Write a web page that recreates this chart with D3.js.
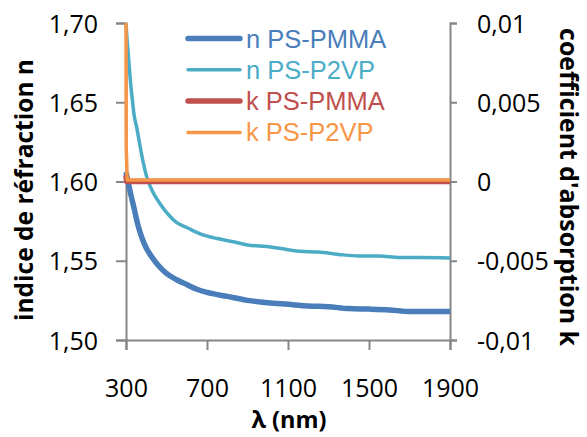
<!DOCTYPE html>
<html><head><meta charset="utf-8">
<script src="https://cdn.jsdelivr.net/npm/d3@7"></script>
<style>
html,body{margin:0;padding:0;background:#fff;}
svg{display:block;font-family:"Open Sans",sans-serif;}
</style></head>
<body>
<svg id="chart" width="587" height="437"></svg>
<script>
// ---- data ----
const lambdaTicks = [300, 700, 1100, 1500, 1900];
const nTicks = [1.50, 1.55, 1.60, 1.65, 1.70];
const nTickLabels = ["1,50", "1,55", "1,60", "1,65", "1,70"];
const kTicks = [-0.01, -0.005, 0, 0.005, 0.01];
const kTickLabels = ["-0,01", "-0,005", "0", "0,005", "0,01"];

const nPMMA_lambda = [300,310,320,340,360,380,400,430,460,500,550,600,650,700,800,900,1000,1100,1200,1300,1400,1500,1600,1700,1800,1900];
const nPMMA_value  = [1.606,1.600,1.594,1.583,1.572,1.564,1.558,1.552,1.547,1.542,1.538,1.535,1.532,1.530,1.5275,1.525,1.5235,1.5225,1.5215,1.521,1.5198,1.5195,1.519,1.518,1.518,1.518];

const nP2VP_lambda = [300,305,311,320,330,340,353,370,385,402,430,468,510,551,600,666,750,830,900,995,1100,1159,1250,1350,1450,1550,1650,1750,1900];
const nP2VP_value  = [1.700,1.690,1.681,1.666,1.653,1.642,1.634,1.622,1.612,1.603,1.594,1.586,1.579,1.574,1.571,1.567,1.564,1.562,1.560,1.559,1.557,1.556,1.5555,1.554,1.553,1.553,1.552,1.552,1.5517];

const kPMMA_lambda = [300,303,500,900,1300,1900];
const kPMMA_value  = [0.0004,0,0,0,0,0];

const kP2VP_lambda = [300,301,306,500,900,1300,1900];
const kP2VP_value  = [0.0100,0.0022,0.0001,0.0001,0.0001,0.0001,0.0001];

const seriesNames = ["n PS-PMMA", "n PS-P2VP", "k PS-PMMA", "k PS-P2VP"];
const seriesColors = ["#4a7ebb", "#4bacc6", "#c0504d", "#f79646"];
const seriesWidths = [5.5, 3.5, 5.5, 3.5];

// ---- layout ----
const svg = d3.select("#chart");
const mLeft = 126, mRight = 450, mTop = 23, mBottom = 340;
const x = d3.scaleLinear().domain([300, 1900]).range([mLeft, mRight]);
const yN = d3.scaleLinear().domain([1.5, 1.7]).range([mBottom, mTop]);
const yK = d3.scaleLinear().domain([-0.01, 0.01]).range([mBottom, mTop]);
const axisColor = "#868686";

svg.append("defs").append("clipPath").attr("id", "clip")
  .append("rect").attr("x", mLeft - 3).attr("y", mTop - 3).attr("width", mRight - mLeft + 6).attr("height", mBottom - mTop + 6);

function styleAxis(g) {
  g.select(".domain").attr("stroke", axisColor).attr("stroke-width", 2);
  g.selectAll(".tick line").attr("stroke", axisColor).attr("stroke-width", 2);
  g.selectAll(".tick text").attr("fill", "#000").style("font-size", "25px").style("font-family", "'Open Sans', sans-serif");
}

const gx = svg.append("g").attr("transform", `translate(0,${mBottom})`)
  .call(d3.axisBottom(x).tickValues(lambdaTicks).tickSizeOuter(0).tickSize(10).tickPadding(29).tickFormat(d => String(d)));
styleAxis(gx);

const gyL = svg.append("g").attr("transform", `translate(${mLeft},0)`)
  .call(d3.axisLeft(yN).tickValues(nTicks).tickSizeOuter(0).tickSize(10).tickPadding(18).tickFormat((d, i) => nTickLabels[i]));
styleAxis(gyL);
gyL.selectAll(".tick text").attr("dy", "0.36em");

const gyR = svg.append("g").attr("transform", `translate(${mRight},0)`)
  .call(d3.axisRight(yK).tickValues(kTicks).tickSizeOuter(0).tickSize(7).tickPadding(20).tickFormat((d, i) => kTickLabels[i]));
styleAxis(gyR);
gyR.selectAll(".tick text").attr("dy", "0.36em");

// ---- series ----
const zip = (a, b) => a.map((v, i) => [v, b[i]]);
const series = [
  {pts: zip(nPMMA_lambda, nPMMA_value), y: yN, curve: d3.curveMonotoneX},
  {pts: zip(nP2VP_lambda, nP2VP_value), y: yN, curve: d3.curveMonotoneX},
  {pts: zip(kPMMA_lambda, kPMMA_value), y: yK, curve: d3.curveLinear},
  {pts: zip(kP2VP_lambda, kP2VP_value), y: yK, curve: d3.curveLinear}
];
const plot = svg.append("g").attr("clip-path", "url(#clip)");
series.forEach((s, i) => {
  const line = d3.line().x(d => x(d[0])).y(d => s.y(d[1])).curve(s.curve);
  plot.append("path").datum(s.pts)
    .attr("fill", "none").attr("stroke", seriesColors[i]).attr("stroke-width", seriesWidths[i])
    .attr("stroke-linejoin", "round").attr("d", line);
});

// ---- legend ----
const legend = svg.append("g");
seriesNames.forEach((name, i) => {
  const yy = 38.5 + i * 31.3;
  legend.append("line").attr("x1", 188).attr("x2", 240).attr("y1", yy).attr("y2", yy)
    .attr("stroke", seriesColors[i]).attr("stroke-width", seriesWidths[i]).attr("stroke-linecap", "round");
  legend.append("text").attr("x", 246).attr("y", yy + 9).attr("fill", seriesColors[i])
    .style("font-family", "'Liberation Sans', Arial, sans-serif")
    .style("font-size", "25.5px").text(name);
});

// ---- axis titles (font size fitted to the measured length) ----
function fitText(sel, target) {
  const len = sel.node().getComputedTextLength();
  if (len > 0) sel.style("font-size", (25 * target / len).toFixed(2) + "px");
}
const tL = svg.append("text").attr("transform", "translate(33,190) rotate(-90)")
  .attr("text-anchor", "middle").style("font-size", "25px").style("font-weight", "bold")
  .text("indice de réfraction n");
fitText(tL, 262);
const tR = svg.append("text").attr("transform", "translate(560,187) rotate(90)")
  .attr("text-anchor", "middle").style("font-size", "25px").style("font-weight", "bold")
  .text("coefficient d'absorption k");
fitText(tR, 318);
const tX = svg.append("text").attr("x", 289).attr("y", 428)
  .attr("text-anchor", "middle").style("font-size", "25px").style("font-weight", "bold")
  .text("λ (nm)");
fitText(tX, 75);
</script>
</body></html>
